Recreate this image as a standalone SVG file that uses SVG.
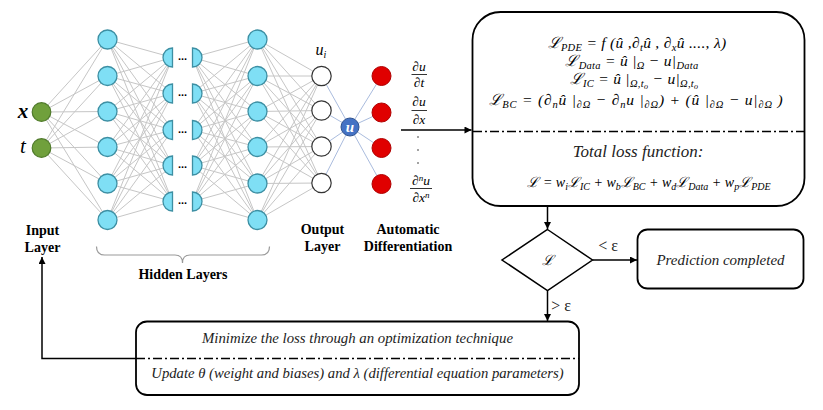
<svg xmlns="http://www.w3.org/2000/svg" xmlns:xlink="http://www.w3.org/1999/xlink" width="823" height="410" viewBox="0 0 823 410">
<style>
.ln{stroke:#c6c6c6;stroke-width:1;fill:none}
.bl{stroke:#9fb3d9;stroke-width:0.9;fill:none}
.hid{fill:#7fdff5;stroke:#3d8fa3;stroke-width:1.3}
.inp{fill:#70a03c;stroke:#4f7a2a;stroke-width:1.2}
.out{fill:#fff;stroke:#333;stroke-width:1.2}
.red{fill:#e00000;stroke:#b00000;stroke-width:1}
.conn{stroke:#000;stroke-width:1.5;fill:none}
.box{fill:#fff;stroke:#000;stroke-width:1.8}
.dd{stroke:#000;stroke-width:1.4;stroke-dasharray:9 3 2 3;fill:none}
.lbl{font-family:"Liberation Serif","DejaVu Serif",serif;font-weight:bold;font-size:14px;text-anchor:middle;fill:#000}
.eq{font-family:"Liberation Serif","DejaVu Serif",serif;font-style:italic;font-size:15.5px;letter-spacing:0.3px;text-anchor:middle;fill:#000}
.eq2{font-family:"Liberation Serif","DejaVu Serif",serif;font-style:italic;font-size:14px;text-anchor:middle;fill:#000}
.fr{font-family:"Liberation Serif","DejaVu Serif",serif;font-style:italic;font-size:13.5px;text-anchor:middle;fill:#000}
.it{font-family:"Liberation Serif","DejaVu Serif",serif;font-style:italic;text-anchor:middle;fill:#222}
.dots{font-family:"Liberation Sans",sans-serif;font-weight:bold;font-size:11px;text-anchor:middle;fill:#000}
.s{font-size:10.5px}
.s2{font-size:10px}
</style>
<defs>
<marker id="ah" viewBox="0 0 10 10" refX="10" refY="5" markerWidth="8" markerHeight="7" markerUnits="userSpaceOnUse" orient="auto"><path d="M0 0L10 5L0 10z" fill="#000"/></marker>
<path id="hl" d="M0 -9.5A9.5 9.5 0 0 0 0 9.5Z"/>
<path id="hr" d="M0 -9.5A9.5 9.5 0 0 1 0 9.5Z"/>
</defs>
<rect width="823" height="410" fill="#fff"/>
<g id="connectors">
<path class="ln" d="M41.5 112L107.5 39.5M41.5 112L107.5 76M41.5 112L107.5 111.5M41.5 112L107.5 147M41.5 112L107.5 183.5M41.5 112L107.5 220M41.5 148L107.5 39.5M41.5 148L107.5 76M41.5 148L107.5 111.5M41.5 148L107.5 147M41.5 148L107.5 183.5M41.5 148L107.5 220"/>
<path class="ln" d="M107.5 39.5L172.5 57.5M107.5 39.5L172.5 93.5M107.5 39.5L172.5 130M107.5 39.5L172.5 165.5M107.5 39.5L172.5 201.5M107.5 76L172.5 57.5M107.5 76L172.5 93.5M107.5 76L172.5 130M107.5 76L172.5 165.5M107.5 76L172.5 201.5M107.5 111.5L172.5 57.5M107.5 111.5L172.5 93.5M107.5 111.5L172.5 130M107.5 111.5L172.5 165.5M107.5 111.5L172.5 201.5M107.5 147L172.5 57.5M107.5 147L172.5 93.5M107.5 147L172.5 130M107.5 147L172.5 165.5M107.5 147L172.5 201.5M107.5 183.5L172.5 57.5M107.5 183.5L172.5 93.5M107.5 183.5L172.5 130M107.5 183.5L172.5 165.5M107.5 183.5L172.5 201.5M107.5 220L172.5 57.5M107.5 220L172.5 93.5M107.5 220L172.5 130M107.5 220L172.5 165.5M107.5 220L172.5 201.5"/>
<path class="ln" d="M192.5 57.5L257.5 39.5M192.5 57.5L257.5 76M192.5 57.5L257.5 111.5M192.5 57.5L257.5 147M192.5 57.5L257.5 183.5M192.5 57.5L257.5 220M192.5 93.5L257.5 39.5M192.5 93.5L257.5 76M192.5 93.5L257.5 111.5M192.5 93.5L257.5 147M192.5 93.5L257.5 183.5M192.5 93.5L257.5 220M192.5 130L257.5 39.5M192.5 130L257.5 76M192.5 130L257.5 111.5M192.5 130L257.5 147M192.5 130L257.5 183.5M192.5 130L257.5 220M192.5 165.5L257.5 39.5M192.5 165.5L257.5 76M192.5 165.5L257.5 111.5M192.5 165.5L257.5 147M192.5 165.5L257.5 183.5M192.5 165.5L257.5 220M192.5 201.5L257.5 39.5M192.5 201.5L257.5 76M192.5 201.5L257.5 111.5M192.5 201.5L257.5 147M192.5 201.5L257.5 183.5M192.5 201.5L257.5 220"/>
<path class="ln" d="M257.5 39.5L321.5 76M257.5 39.5L321.5 110.5M257.5 39.5L321.5 146.5M257.5 39.5L321.5 183M257.5 76L321.5 76M257.5 76L321.5 110.5M257.5 76L321.5 146.5M257.5 76L321.5 183M257.5 111.5L321.5 76M257.5 111.5L321.5 110.5M257.5 111.5L321.5 146.5M257.5 111.5L321.5 183M257.5 147L321.5 76M257.5 147L321.5 110.5M257.5 147L321.5 146.5M257.5 147L321.5 183M257.5 183.5L321.5 76M257.5 183.5L321.5 110.5M257.5 183.5L321.5 146.5M257.5 183.5L321.5 183M257.5 220L321.5 76M257.5 220L321.5 110.5M257.5 220L321.5 146.5M257.5 220L321.5 183"/>
<path class="bl" d="M321.5 76L350 127M321.5 110.5L350 127M321.5 146.5L350 127M321.5 183L350 127M350 127L381.5 76M350 127L381.5 112.5M350 127L381.5 148M350 127L381.5 184"/>
<path class="conn" d="M401 130H471.5" marker-end="url(#ah)"/>
<path class="conn" d="M547.5 206V229" marker-end="url(#ah)"/>
<path class="conn" d="M592.5 260H637" marker-end="url(#ah)"/>
<path class="conn" d="M547.5 290.5V321" marker-end="url(#ah)"/>
<path class="conn" d="M136 358.5H42V257" marker-end="url(#ah)"/>
<path d="M96.5 246.5Q96.5 255 104.5 255H175Q182.5 255 182.5 263Q182.5 255 190 255H261.5Q269.5 255 269.5 246.5" fill="none" stroke="#999" stroke-width="1.2"/>
</g>
<g id="input-x"><circle class="inp" cx="41.5" cy="112" r="9.3"/><text x="23" y="118" style="font-family:'Liberation Serif',serif;font-style:italic;font-weight:bold;font-size:21px" text-anchor="middle">x</text></g>
<g id="input-t"><circle class="inp" cx="41.5" cy="148" r="9.3"/><text x="23" y="153" style="font-family:'Liberation Serif',serif;font-style:italic;font-size:21px" text-anchor="middle">t</text></g>
<g id="h1-1"><circle class="hid" cx="107.5" cy="39.5" r="9.5"/></g>
<g id="h1-2"><circle class="hid" cx="107.5" cy="76" r="9.5"/></g>
<g id="h1-3"><circle class="hid" cx="107.5" cy="111.5" r="9.5"/></g>
<g id="h1-4"><circle class="hid" cx="107.5" cy="147" r="9.5"/></g>
<g id="h1-5"><circle class="hid" cx="107.5" cy="183.5" r="9.5"/></g>
<g id="h1-6"><circle class="hid" cx="107.5" cy="220" r="9.5"/></g>
<g id="h2-1"><use xlink:href="#hl" x="172.5" y="57.5" class="hid"/><use xlink:href="#hr" x="192.5" y="57.5" class="hid"/><text class="dots" x="182.5" y="60">...</text></g>
<g id="h2-2"><use xlink:href="#hl" x="172.5" y="93.5" class="hid"/><use xlink:href="#hr" x="192.5" y="93.5" class="hid"/><text class="dots" x="182.5" y="96">...</text></g>
<g id="h2-3"><use xlink:href="#hl" x="172.5" y="130" class="hid"/><use xlink:href="#hr" x="192.5" y="130" class="hid"/><text class="dots" x="182.5" y="132.5">...</text></g>
<g id="h2-4"><use xlink:href="#hl" x="172.5" y="165.5" class="hid"/><use xlink:href="#hr" x="192.5" y="165.5" class="hid"/><text class="dots" x="182.5" y="168">...</text></g>
<g id="h2-5"><use xlink:href="#hl" x="172.5" y="201.5" class="hid"/><use xlink:href="#hr" x="192.5" y="201.5" class="hid"/><text class="dots" x="182.5" y="204">...</text></g>
<g id="h3-1"><circle class="hid" cx="257.5" cy="39.5" r="9.5"/></g>
<g id="h3-2"><circle class="hid" cx="257.5" cy="76" r="9.5"/></g>
<g id="h3-3"><circle class="hid" cx="257.5" cy="111.5" r="9.5"/></g>
<g id="h3-4"><circle class="hid" cx="257.5" cy="147" r="9.5"/></g>
<g id="h3-5"><circle class="hid" cx="257.5" cy="183.5" r="9.5"/></g>
<g id="h3-6"><circle class="hid" cx="257.5" cy="220" r="9.5"/></g>
<g id="out-1"><circle class="out" cx="321.5" cy="76" r="9.7"/></g>
<g id="out-2"><circle class="out" cx="321.5" cy="110.5" r="9.7"/></g>
<g id="out-3"><circle class="out" cx="321.5" cy="146.5" r="9.7"/></g>
<g id="out-4"><circle class="out" cx="321.5" cy="183" r="9.7"/></g>
<g id="u-node"><circle cx="350" cy="127" r="9" fill="#4472c4" stroke="#2f528f" stroke-width="1"/><text x="350" y="131.5" style="font-family:'Liberation Serif',serif;font-style:italic;font-weight:bold;font-size:15px" fill="#fff" text-anchor="middle">u</text></g>
<g id="ad-1"><circle class="red" cx="381.5" cy="76" r="9.5"/></g>
<g id="ad-2"><circle class="red" cx="381.5" cy="112.5" r="9.5"/></g>
<g id="ad-3"><circle class="red" cx="381.5" cy="148" r="9.5"/></g>
<g id="ad-4"><circle class="red" cx="381.5" cy="184" r="9.5"/></g>
<g id="labels">
<text class="fr" x="321" y="55" style="font-size:16px">u<tspan dy="3" class="s2">i</tspan></text>
<text class="lbl"><tspan x="42.5" y="235">Input</tspan><tspan x="42.5" y="252">Layer</tspan></text>
<text class="lbl" x="183" y="279">Hidden Layers</text>
<text class="lbl"><tspan x="322.5" y="234">Output</tspan><tspan x="322.5" y="251">Layer</tspan></text>
<text class="lbl"><tspan x="408" y="234">Automatic</tspan><tspan x="408" y="251">Differentiation</tspan></text>
<text class="fr" x="419" y="70.5">∂u</text><path d="M411.5 74.5H427" stroke="#000" stroke-width="0.8"/><text class="fr" x="419" y="87">∂t</text>
<text class="fr" x="419" y="106">∂u</text><path d="M411.5 110.5H427" stroke="#000" stroke-width="0.8"/><text class="fr" x="419" y="124">∂x</text>
<circle cx="418" cy="137" r="0.7"/><circle cx="418" cy="150" r="0.7"/><circle cx="418" cy="163" r="0.7"/>
<text class="fr" x="421" y="184.5">∂<tspan dy="-4" style="font-size:9px">n</tspan><tspan dy="4">u</tspan></text><path d="M410 188.5H432" stroke="#000" stroke-width="0.8"/><text class="fr" x="421" y="202">∂x<tspan dy="-4" style="font-size:9px">n</tspan></text>
</g>
<g id="loss-box">
<rect class="box" x="472.5" y="12" width="332" height="194" rx="28"/>
<path class="dd" d="M473 131.5H804"/>
<text class="eq" x="637" y="48">ℒ<tspan dy="3" class="s">PDE</tspan><tspan dy="-3"> = f (û ,∂</tspan><tspan dy="3" class="s">t</tspan><tspan dy="-3">û , ∂</tspan><tspan dy="3" class="s">x</tspan><tspan dy="-3">û ...., λ)</tspan></text>
<text class="eq" x="632" y="66">ℒ<tspan dy="3" class="s">Data</tspan><tspan dy="-3"> =  û |</tspan><tspan dy="3" class="s">Ω</tspan><tspan dy="-3"> − u|</tspan><tspan dy="3" class="s">Data</tspan></text>
<text class="eq" x="634" y="84">ℒ<tspan dy="3" class="s">IC</tspan><tspan dy="-3"> = û |</tspan><tspan dy="3" class="s">Ω,t</tspan><tspan dy="2" style="font-size:8px">o</tspan><tspan dy="-5"> − u|</tspan><tspan dy="3" class="s">Ω,t</tspan><tspan dy="2" style="font-size:8px">o</tspan></text>
<text class="eq" x="636" y="105" style="letter-spacing:0.8px">ℒ<tspan dy="3" class="s">BC</tspan><tspan dy="-3"> =  (∂</tspan><tspan dy="3" class="s">n</tspan><tspan dy="-3">û |</tspan><tspan dy="3" class="s">∂Ω</tspan><tspan dy="-3"> − ∂</tspan><tspan dy="3" class="s">n</tspan><tspan dy="-3">u |</tspan><tspan dy="3" class="s">∂Ω</tspan><tspan dy="-3">) + (û |</tspan><tspan dy="3" class="s">∂Ω</tspan><tspan dy="-3">  −  u|</tspan><tspan dy="3" class="s">∂Ω</tspan><tspan dy="-3"> )</tspan></text>
<text class="it" x="638" y="157" style="font-size:17px">Total loss function:</text>
<text class="eq2" x="649" y="187">ℒ = w<tspan dy="3" class="s2">i</tspan><tspan dy="-3">ℒ</tspan><tspan dy="3" class="s2">IC</tspan><tspan dy="-3"> +  w</tspan><tspan dy="3" class="s2">b</tspan><tspan dy="-3">ℒ</tspan><tspan dy="3" class="s2">BC</tspan><tspan dy="-3"> + w</tspan><tspan dy="3" class="s2">d</tspan><tspan dy="-3">ℒ</tspan><tspan dy="3" class="s2">Data</tspan><tspan dy="-3"> + w</tspan><tspan dy="3" class="s2">p</tspan><tspan dy="-3">ℒ</tspan><tspan dy="3" class="s2">PDE</tspan></text>
</g>
<g id="decision">
<polygon points="547.5,229.5 592.5,260 547.5,290.5 502,260" fill="#fff" stroke="#000" stroke-width="1.5"/>
<text class="eq2" x="547.5" y="265">ℒ</text>
</g>
<text x="608" y="251" style="font-family:'Liberation Serif',serif;font-size:16px" text-anchor="middle" fill="#222">&lt; ε</text>
<text x="561" y="311" style="font-family:'Liberation Serif',serif;font-size:16px" text-anchor="middle" fill="#222">&gt; ε</text>
<g id="prediction">
<rect class="box" x="637.5" y="229.5" width="166" height="59" rx="10" stroke-width="1.5"/>
<text class="it" x="720.5" y="265" style="font-size:15px">Prediction completed</text>
</g>
<g id="optimize">
<rect class="box" x="136" y="321.5" width="443" height="73.5" rx="11" stroke-width="1.5"/>
<path class="dd" d="M136 358.5H579"/>
<text class="it" x="357.5" y="343" style="font-size:14.8px">Minimize the loss through an optimization technique</text>
<text class="it" x="357.5" y="378" style="font-size:14.7px">Update θ (weight and biases) and λ (differential equation parameters)</text>
</g>
</svg>
